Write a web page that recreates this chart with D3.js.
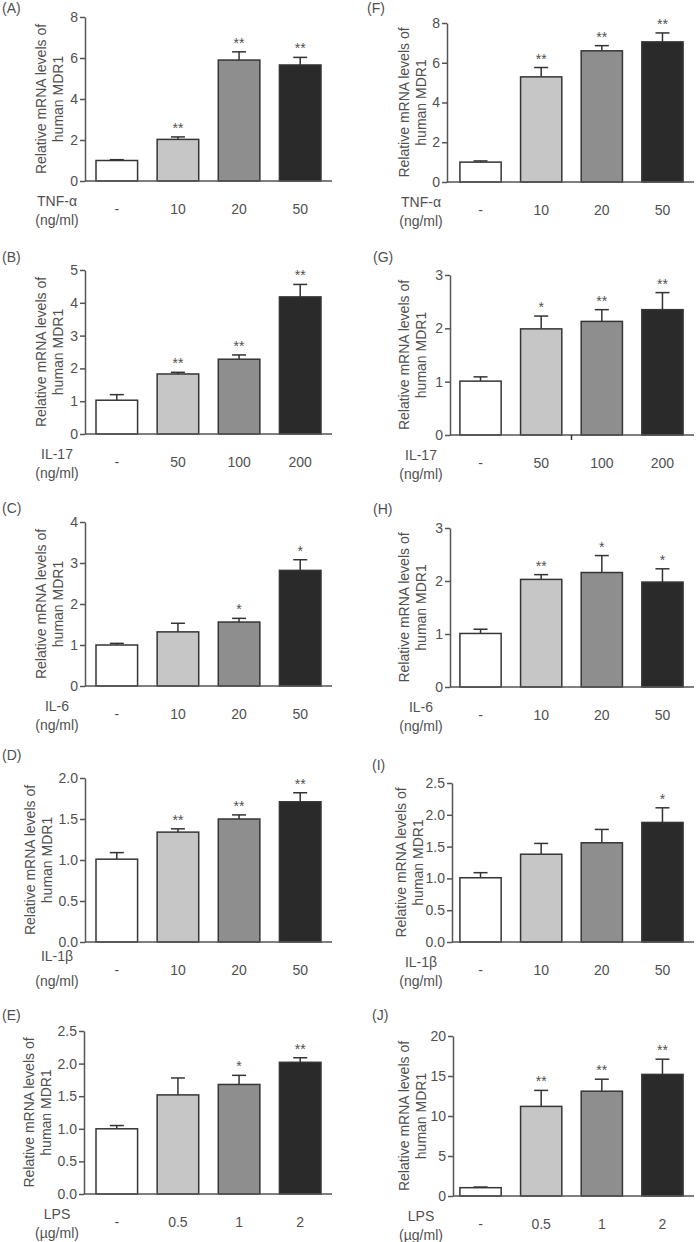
<!DOCTYPE html>
<html><head><meta charset="utf-8">
<script src="https://cdn.jsdelivr.net/npm/d3@7"></script>
<style>
html,body{margin:0;padding:0;background:#fff;}
text{font-family:"Liberation Sans",Arial,Helvetica,sans-serif;fill:#505050;}
</style></head>
<body><svg id="chart" width="697" height="1242"></svg>
<script>
// ---- data ----
const panelLetters = ["(A)","(B)","(C)","(D)","(E)","(F)","(G)","(H)","(I)","(J)"];
const treatments = ["TNF-α","IL-17","IL-6","IL-1β","LPS"];
const units = ["(ng/ml)","(ng/ml)","(ng/ml)","(ng/ml)","(µg/ml)"];
const doses = [
  ["-","10","20","50"],
  ["-","50","100","200"],
  ["-","10","20","50"],
  ["-","10","20","50"],
  ["-","0.5","1","2"]
];
// left column (A-E)
const meansLeft = [
  [1.0, 2.03, 5.90, 5.66],
  [1.03, 1.83, 2.28, 4.18],
  [1.0, 1.32, 1.56, 2.82],
  [1.01, 1.34, 1.50, 1.71],
  [1.0, 1.52, 1.68, 2.02]
];
const errLeft = [
  [0.04, 0.12, 0.40, 0.37],
  [0.17, 0.05, 0.13, 0.38],
  [0.04, 0.21, 0.09, 0.26],
  [0.08, 0.04, 0.05, 0.11],
  [0.05, 0.26, 0.14, 0.07]
];
const starsLeft = [
  ["","**","**","**"],
  ["","**","**","**"],
  ["","","*","*"],
  ["","**","**","**"],
  ["","","*","**"]
];
// right column (F-J)
const meansRight = [
  [1.0, 5.29, 6.60, 7.05],
  [1.01, 1.99, 2.13, 2.35],
  [1.01, 2.03, 2.16, 1.98],
  [1.01, 1.38, 1.56, 1.88],
  [1.04, 11.2, 13.1, 15.2]
];
const errRight = [
  [0.06, 0.47, 0.26, 0.45],
  [0.08, 0.24, 0.22, 0.32],
  [0.08, 0.09, 0.32, 0.25],
  [0.08, 0.17, 0.21, 0.23],
  [0.08, 2.0, 1.5, 1.9]
];
const starsRight = [
  ["","**","**","**"],
  ["","*","**","**"],
  ["","**","*","*"],
  ["","","","*"],
  ["","**","**","**"]
];
const yTicksLeft = [[0,2,4,6,8],[0,1,2,3,4,5],[0,1,2,3,4],[0,0.5,1,1.5,2],[0,0.5,1,1.5,2,2.5]];
const yTicksRight = [[0,2,4,6,8],[0,1,2,3],[0,1,2,3],[0,0.5,1,1.5,2,2.5],[0,5,10,15,20]];
const tickFormats = ["d","d","d",".1f",".1f"];
const tickFormatsRight = ["d","d","d",".1f","d"];
const yTitle = ["Relative mRNA levels of","human MDR1"];
const barFills = ["#ffffff","#c6c6c6","#8e8e8e","#2a2a2a"];

// ---- layout ----
const layoutLeft = [
  {top:17, zero:181, axisX:85, tx:[41,58], lx:2, ly:8},
  {top:270, zero:434, axisX:85, tx:[41,58], lx:2, ly:257},
  {top:522, zero:686, axisX:85, tx:[41,58], lx:2, ly:508},
  {top:778, zero:942, axisX:85, tx:[30,47], lx:2, ly:755},
  {top:1031, zero:1194, axisX:84, tx:[29,46], lx:2, ly:1015}
];
const layoutRight = [
  {top:23, zero:182, axisX:447, tx:[404,421], lx:367, ly:8},
  {top:275, zero:435, axisX:450, tx:[404,421], lx:373, ly:257},
  {top:528, zero:687, axisX:450, tx:[404,421], lx:373, ly:509},
  {top:783, zero:942, axisX:452, tx:[401,418], lx:372, ly:765},
  {top:1036, zero:1196, axisX:453, tx:[404,421], lx:372, ly:1015}
];
const colCfg = [
  {bandRange:[85,332], axisEnd:332, nameX:57},
  {bandRange:[449,694], axisEnd:694, nameX:421}
];

const svg = d3.select("#chart");
const FS = 14;

function drawPanel(col, row, letter, means, errs, stars, ticks, fmt, lay, extraTick) {
  const cfg = colCfg[col];
  const cats = doses[row];
  const x = d3.scaleBand().domain(cats).range(cfg.bandRange).paddingInner(0.32).paddingOuter(0.18);
  const y = d3.scaleLinear().domain([0, d3.max(ticks)]).range([lay.zero, lay.top]);
  const g = svg.append("g");

  g.append("text").attr("x", lay.lx).attr("y", lay.ly).attr("dominant-baseline","central")
    .style("font-size", FS+"px").text(letter);

  yTitle.forEach((t,i)=>{
    g.append("text").attr("transform",`translate(${lay.tx[i]},${(lay.top+lay.zero)/2}) rotate(-90)`)
      .attr("text-anchor","middle").attr("dominant-baseline","central")
      .style("font-size", FS+"px").text(t);
  });

  const data = cats.map((c,i)=>({c, m:means[i], e:errs[i], s:stars[i], f:barFills[i]}));
  const eg = g.append("g");
  data.forEach(d=>{
    const cx = x(d.c) + x.bandwidth()/2;
    eg.append("line").attr("x1",cx).attr("x2",cx).attr("y1",y(d.m)).attr("y2",y(d.m+d.e))
      .attr("stroke","#333").attr("stroke-width",1.5);
    eg.append("line").attr("x1",cx-7).attr("x2",cx+7).attr("y1",y(d.m+d.e)).attr("y2",y(d.m+d.e))
      .attr("stroke","#333").attr("stroke-width",1.5);
  });

  g.selectAll("rect.bar").data(data).enter().append("rect")
    .attr("x", d=>x(d.c)).attr("width", x.bandwidth())
    .attr("y", d=>y(d.m)).attr("height", d=>lay.zero - y(d.m))
    .attr("fill", d=>d.f).attr("stroke","#353535").attr("stroke-width",1.5);

  g.selectAll("text.star").data(data).enter().append("text")
    .attr("x", d=>x(d.c)+x.bandwidth()/2).attr("y", d=>y(d.m+d.e)-4)
    .attr("text-anchor","middle").style("font-size", FS+"px").text(d=>d.s);

  const ya = d3.axisLeft(y).tickValues(ticks).tickFormat(d3.format(fmt)).tickSize(5).tickPadding(2).tickSizeOuter(0);
  const yg = g.append("g").attr("transform",`translate(${lay.axisX},0)`).call(ya);
  yg.select(".domain").attr("stroke","#555").attr("stroke-width",1.5);
  yg.selectAll(".tick line").attr("stroke","#555").attr("stroke-width",1.5);
  yg.selectAll(".tick text").style("font-size", FS+"px").style("font-family",'"Liberation Sans",Arial,sans-serif').attr("fill","#505050");

  g.append("line").attr("x1", lay.axisX).attr("x2", cfg.axisEnd).attr("y1", lay.zero).attr("y2", lay.zero)
    .attr("stroke","#555").attr("stroke-width",1.5);

  if (extraTick) {
    const mx = (x(cats[1]) + x.bandwidth() + x(cats[2]))/2;
    g.append("line").attr("x1",mx).attr("x2",mx).attr("y1",lay.zero).attr("y2",lay.zero+5)
      .attr("stroke","#333").attr("stroke-width",1.5);
  }

  g.selectAll("text.cat").data(cats).enter().append("text")
    .attr("x", d=>x(d)+x.bandwidth()/2).attr("y", lay.zero+28)
    .attr("text-anchor","middle").attr("dominant-baseline","central")
    .style("font-size", FS+"px").text(d=>d);

  g.append("text").attr("x", cfg.nameX).attr("y", lay.zero + (row===3 && col===0 ? 14 : 20))
    .attr("text-anchor","middle").attr("dominant-baseline","central")
    .style("font-size", FS+"px").text(treatments[row]);
  g.append("text").attr("x", cfg.nameX).attr("y", lay.zero+39)
    .attr("text-anchor","middle").attr("dominant-baseline","central")
    .style("font-size", FS+"px").text(units[row]);
}

for (let r=0; r<5; r++) {
  drawPanel(0, r, panelLetters[r], meansLeft[r], errLeft[r], starsLeft[r], yTicksLeft[r], tickFormats[r], layoutLeft[r], false);
  drawPanel(1, r, panelLetters[r+5], meansRight[r], errRight[r], starsRight[r], yTicksRight[r], tickFormatsRight[r], layoutRight[r], r===1);
}
</script></body></html>
